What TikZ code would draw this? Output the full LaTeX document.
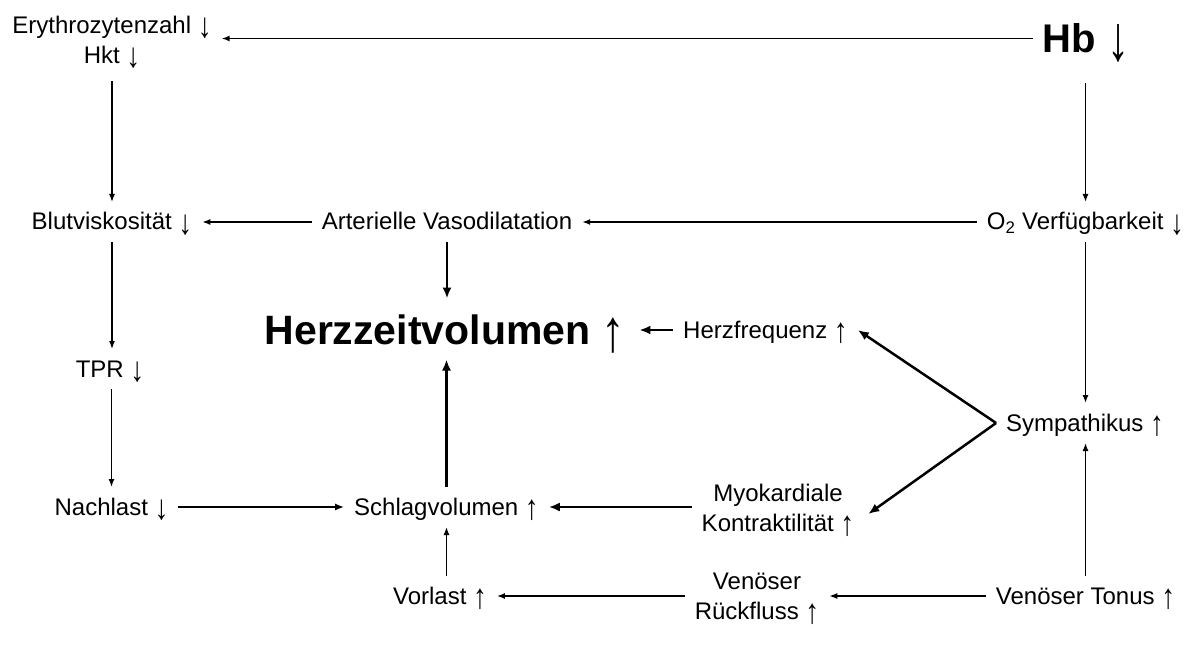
\documentclass[tikz,border=0pt]{standalone}
\usepackage{fontspec}
\setmainfont{Liberation Sans}
\usetikzlibrary{arrows.meta}
\newcommand\arDn{\raisebox{-0.17em}{\scalebox{1.15}[1.45]{↓}}}
\newcommand\arUp{\raisebox{-0.17em}{\scalebox{1.15}[1.45]{↑}}}
\newcommand\arDnBig{\raisebox{-0.2em}{\scalebox{1.1}[1.6]{↓}}}
\begin{document}
\begin{tikzpicture}[x=1pt,y=-1pt,
  lbl/.style={inner sep=0pt, outer sep=10pt, font=\fontsize{24}{30}\selectfont, text height=18pt, text depth=2pt},
  lbl2/.style={inner sep=0pt, outer sep=10pt, font=\fontsize{24}{30}\selectfont, align=center},
  big/.style={inner sep=0pt, outer sep=10pt, font=\fontsize{41}{44}\selectfont\bfseries, text height=30pt, text depth=0pt},
  arr/.style={line width=1.5pt, -{Latex[length=8pt,width=6pt]}},
  marr/.style={line width=2pt, -{Latex[length=9pt,width=7pt]}},
  tarr/.style={line width=2.5pt, -{Latex[length=11pt,width=9pt]}}
]
\useasboundingbox (0,0) rectangle (1196,652);

\node[lbl2] (ery) at (112,42) {Erythrozytenzahl \arDn\\Hkt \arDn};
\node[big, font=\fontsize{40}{44}\selectfont\bfseries, text height=29pt] (hb) at (1086,38.5) {Hb {\mdseries\arDnBig}};
\node[lbl] (blut) at (112,222) {Blutviskosität \arDn};
\node[lbl] (art) at (447,222) {Arterielle Vasodilatation};
\node[lbl] (o2) at (1085.5,222) {O\textsubscript{2} Verfügbarkeit \arDn};
\node[big] (hzv) at (445,329.5) {Herzzeitvolumen {\mdseries\arUp}};
\node[lbl] (hf) at (765.5,330) {Herzfrequenz \arUp};
\node[lbl] (tpr) at (110,369) {TPR \arDn};
\node[lbl] (sym) at (1085,423) {Sympathikus \arUp};
\node[lbl] (nach) at (111.5,507) {Nachlast \arDn};
\node[lbl] (schlag) at (446.5,507) {Schlagvolumen \arUp};
\node[lbl2] (myo) at (778,510) {Myokardiale\\Kontraktilität \arUp};
\node[lbl] (vor) at (440,596) {Vorlast \arUp};
\node[lbl2] (ven) at (757,599) {Venöser\\Rückfluss \arUp};
\node[lbl] (vton) at (1085.5,596) {Venöser Tonus \arUp};

% thin arrows
\draw[arr] (hb.west) -- (hb.west -| ery.east);
\draw[arr, shorten <=3pt] (ery.south -| blut.north) -- (blut.north);
\draw[arr, shorten <=20pt] (hb.south -| o2.north) -- (o2.north);
\draw[arr] (o2.west) -- (art.east);
\draw[arr] (art.west) -- (blut.east);
\draw[arr] (blut.south) -- (blut.south |- tpr.north);
\draw[arr] (tpr.south -| nach.north) -- (nach.north);
\draw[arr] (o2.south) -- (o2.south |- sym.north);
\draw[arr] (vton.north) -- (vton.north |- sym.south);
\draw[arr] (vton.west) -- (vton.west -| ven.east);
\draw[arr] (ven.west |- vor.east) -- (vor.east);
\draw[arr] (vor.north -| schlag.south) -- (schlag.south);

% medium
\draw[marr] (nach.east) -- (schlag.west);

% thick arrows
\draw[tarr, shorten >=6pt] (art.south) -- (hzv.north -| art.south);
\draw[tarr, shorten >=5pt] (schlag.north) -- (hzv.south -| schlag.north);
\draw[tarr, shorten >=4pt] (hf.west) -- (hf.west -| hzv.east);
\draw[tarr] (myo.west |- schlag.east) -- (schlag.east);
\draw[tarr] (sym.west) -- (hf.east);
\draw[tarr] (sym.west) -- ([xshift=4pt,yshift=-4pt]myo.east);
\end{tikzpicture}
\end{document}
